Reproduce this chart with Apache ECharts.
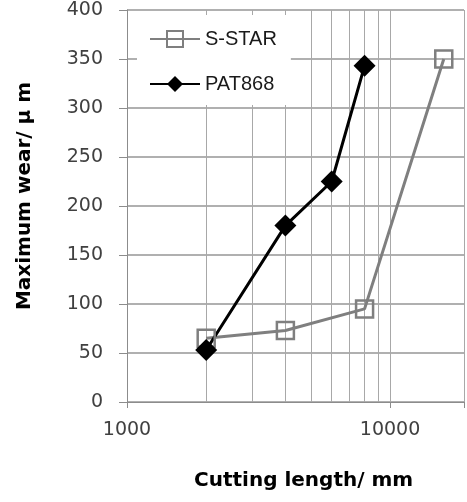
<!DOCTYPE html>
<html>
<head>
<meta charset="utf-8">
<script src="https://cdn.jsdelivr.net/npm/echarts@6/dist/echarts.min.js"></script>
<style>
html, body { margin: 0; padding: 0; background: #fff; }
#chart { width: 467px; height: 502px; }
</style>
</head>
<body>
<div id="chart"></div>
<script>
// Wear of two tool types against cutting length (log scale)
const seriesNames = ['S-STAR', 'PAT868'];
const sstarLength = [2000, 4000, 8000, 16000];
const sstarWear = [65, 73, 95, 350];
const patLength = [2000, 4000, 6000, 8000];
const patWear = [53, 180, 225, 343];
// intermediate log gridlines between the decades
const minorGrid = [2000, 3000, 4000, 5000, 6000, 7000, 8000, 9000];
// labelled decades on the length axis
const xTickLabels = [1000, 10000];
const xMin = 1000;
const xMax = 19100;
const xTitle = 'Cutting length/ mm';
const yTitle = 'Maximum wear/ \u03bc m';

const font = 'Liberation Sans';
const wideFont = 'DejaVu Sans';
const gridColor = '#a8a8a8';

const pairs = (xs, ys) => xs.map((x, i) => [x, ys[i]]);

const chart = echarts.init(document.getElementById('chart'));
chart.setOption({
  animation: false,
  backgroundColor: '#fff',
  grid: { left: 127, top: 10, right: 0, bottom: 100 },
  legend: {
    data: seriesNames,
    orient: 'vertical',
    left: 137,
    top: 15,
    padding: [14, 14, 11, 12],
    backgroundColor: '#fff',
    itemWidth: 50,
    itemHeight: 20,
    itemGap: 25,
    textStyle: { fontFamily: font, fontSize: 20, color: '#1a1a1a' }
  },
  xAxis: {
    type: 'log',
    logBase: 10,
    min: xMin,
    max: xMax,
    axisLine: { lineStyle: { color: '#8c8c8c', width: 1 } },
    axisTick: { show: true, length: 6, lineStyle: { color: '#8c8c8c' } },
    axisLabel: {
      fontFamily: wideFont, fontSize: 19, color: '#404040', margin: 19,
      formatter: v => (xTickLabels.indexOf(Math.round(v)) >= 0 ? String(Math.round(v)) : '')
    },
    splitLine: { show: true, lineStyle: { color: gridColor, width: 1, type: 'solid', opacity: 1 } }
  },
  yAxis: {
    type: 'value',
    min: 0,
    max: 400,
    interval: 50,
    name: yTitle,
    nameLocation: 'middle',
    nameGap: 92,
    nameTextStyle: {
      fontFamily: wideFont, fontSize: 20, fontWeight: 'bold', color: '#000',
      padding: [0, 0, 0, 20]
    },
    axisLine: { show: true, lineStyle: { color: '#8c8c8c', width: 1 } },
    axisTick: { show: true, length: 8, lineStyle: { color: '#8c8c8c' } },
    axisLabel: { fontFamily: wideFont, fontSize: 19, color: '#404040', margin: 24 },
    splitLine: {
      show: true, showMinLine: true, showMaxLine: true,
      lineStyle: { color: '#969696', width: 1.5, type: 'solid', opacity: 1 }
    }
  },
  graphic: [{
    type: 'text',
    left: 194,
    top: 471,
    style: { text: xTitle, font: 'bold 20px "DejaVu Sans"', fill: '#000' }
  }],
  series: [
    {
      name: seriesNames[0],
      type: 'line',
      data: pairs(sstarLength, sstarWear),
      symbol: 'rect',
      symbolSize: 17,
      lineStyle: { color: '#7f7f7f', width: 3 },
      itemStyle: { color: 'transparent', borderColor: '#7f7f7f', borderWidth: 2.5 },
      // minor log gridlines drawn beneath the series
      markLine: {
        silent: true,
        z: 1,
        symbol: 'none',
        label: { show: false },
        lineStyle: { color: gridColor, width: 1, type: 'solid' },
        emphasis: { disabled: true },
        data: minorGrid.map(v => ({ xAxis: v }))
      }
    },
    {
      name: seriesNames[1],
      type: 'line',
      data: pairs(patLength, patWear),
      symbol: 'diamond',
      symbolSize: 22,
      lineStyle: { color: '#000', width: 3 },
      itemStyle: { color: '#000' }
    }
  ]
});
</script>
</body>
</html>
